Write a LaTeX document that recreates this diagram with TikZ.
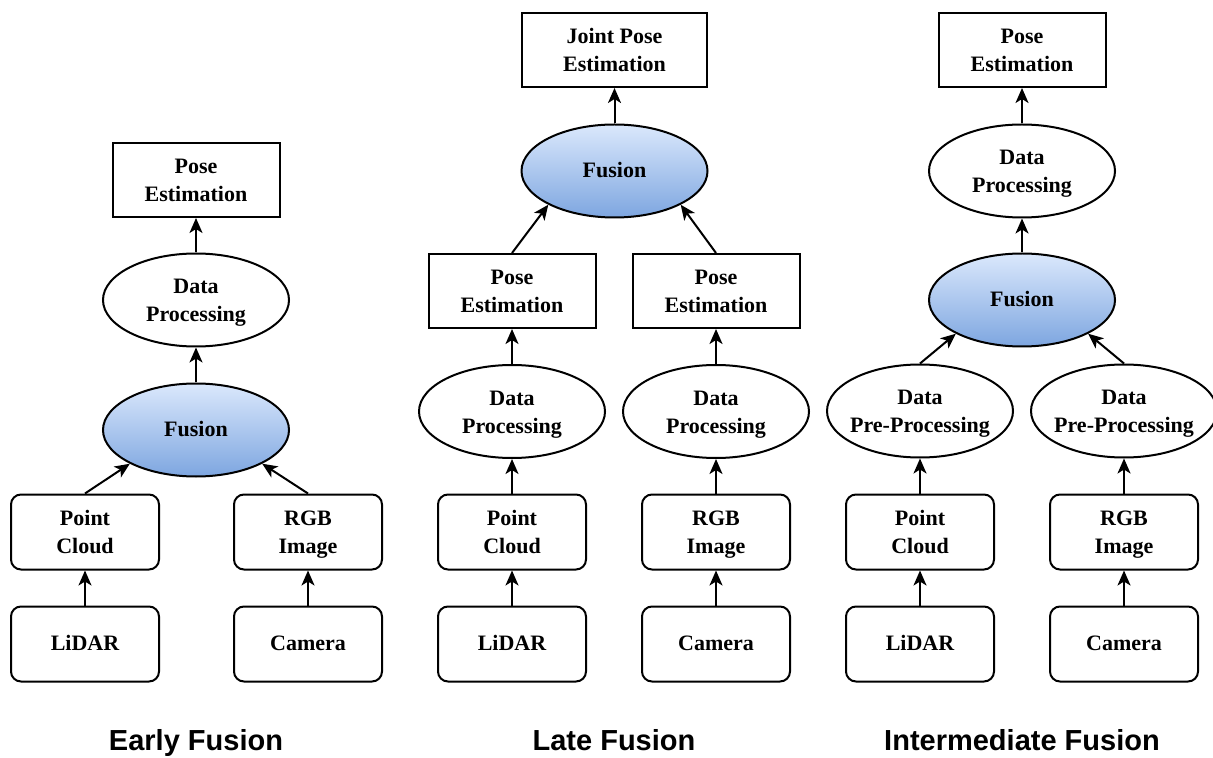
\documentclass[tikz,border=0pt]{standalone}
\usepackage{fontspec}
\setmainfont{Liberation Serif}
\setsansfont{Liberation Sans}
\usetikzlibrary{arrows.meta,positioning,shapes.geometric}
\definecolor{fzink}{HTML}{000000}
\definecolor{fztop}{HTML}{DAE8FC}
\definecolor{fzbot}{HTML}{7EA6E0}
\tikzset{
  fznode/.style={draw=fzink, line width=1pt, fill=white, align=center, inner sep=0pt,
                 font=\fontsize{11}{13.8}\selectfont\bfseries,
                 execute at begin node={\rule{0pt}{11pt}}, execute at end node=\strut},
  fztwo/.style={text height=25pt, text depth=3.5pt},
  fzbox/.style={fznode, fztwo, minimum width=83.5pt, minimum height=37pt},
  fzsrc/.style={fznode, rounded corners=5pt, minimum width=74pt, minimum height=37.5pt},
  fzproc/.style={fznode, fztwo, ellipse, minimum width=93pt, minimum height=46.5pt},
  fzfuse/.style={fznode, ellipse, minimum width=93pt, minimum height=46.5pt,
                 top color=fztop, bottom color=fzbot},
  fzedge/.style={-{Stealth[length=7.5pt,width=6.5pt,inset=2pt]}, draw=fzink, line width=1pt},
  fztitle/.style={font=\sffamily\bfseries\fontsize{14.5}{17}\selectfont, anchor=base},
}

\begin{document}
\begin{tikzpicture}[x=0.5pt,y=-0.5pt]
  \useasboundingbox (0,0) rectangle (1213,758);

  % early fusion
  \node[fzbox]  (ePose)  at (196,180) {Pose\\Estimation};
  \node[fzproc] (eProc)  at (196,300) {Data\\Processing};
  \node[fzfuse] (eFus)   at (196,430) {Fusion};
  \node[fzsrc, fztwo] (ePc)  at (85,532)  {Point\\Cloud};
  \node[fzsrc, fztwo] (eRgb) at (308,532) {RGB\\Image};
  \node[fzsrc]  (eLidar) at (85,644)  {LiDAR};
  \node[fzsrc]  (eCam)   at (308,644) {Camera};
  \draw[fzedge] (eLidar) -- (ePc);
  \draw[fzedge] (eCam) -- (eRgb);
  \draw[fzedge] (ePc.north) -- (eFus.207);
  \draw[fzedge] (eRgb.north) -- (eFus.-27);
  \draw[fzedge] (eFus) -- (eProc);
  \draw[fzedge] (eProc) -- (ePose);
  \node[fztitle] (eTitle) at (196,750) {Early Fusion};

  % late fusion
  \node[fzbox, minimum width=92.5pt] (lJoint) at (614.5,50) {Joint Pose\\Estimation};
  \node[fzfuse] (lFus)   at (614.5,171) {Fusion};
  \node[fzbox]  (lPoseA) at (512,291) {Pose\\Estimation};
  \node[fzbox]  (lPoseB) at (716,291) {Pose\\Estimation};
  \node[fzproc] (lProcA) at (512,411.5) {Data\\Processing};
  \node[fzproc] (lProcB) at (716,411.5) {Data\\Processing};
  \node[fzsrc, fztwo] (lPc)  at (512,532) {Point\\Cloud};
  \node[fzsrc, fztwo] (lRgb) at (716,532) {RGB\\Image};
  \node[fzsrc]  (lLidar) at (512,644) {LiDAR};
  \node[fzsrc]  (lCam)   at (716,644) {Camera};
  \draw[fzedge] (lLidar) -- (lPc);
  \draw[fzedge] (lCam) -- (lRgb);
  \draw[fzedge] (lPc) -- (lProcA);
  \draw[fzedge] (lRgb) -- (lProcB);
  \draw[fzedge] (lProcA) -- (lPoseA);
  \draw[fzedge] (lProcB) -- (lPoseB);
  \draw[fzedge] (lPoseA.north) -- (lFus.207);
  \draw[fzedge] (lPoseB.north) -- (lFus.-27);
  \draw[fzedge] (lFus) -- (lJoint);
  \node[fztitle] (lTitle) at (614,750) {Late Fusion};

  % intermediate fusion
  \node[fzbox]  (iPose)  at (1022,50)  {Pose\\Estimation};
  \node[fzproc] (iProc)  at (1022,171) {Data\\Processing};
  \node[fzfuse] (iFus)   at (1022,300) {Fusion};
  \node[fzproc, inner xsep=-2.5pt] (iPreA) at (920,411)  {Data\\Pre-Processing};
  \node[fzproc, inner xsep=-2.5pt] (iPreB) at (1124,411) {Data\\Pre-Processing};
  \node[fzsrc, fztwo] (iPc)  at (920,532)  {Point\\Cloud};
  \node[fzsrc, fztwo] (iRgb) at (1124,532) {RGB\\Image};
  \node[fzsrc]  (iLidar) at (920,644)  {LiDAR};
  \node[fzsrc]  (iCam)   at (1124,644) {Camera};
  \draw[fzedge] (iLidar) -- (iPc);
  \draw[fzedge] (iCam) -- (iRgb);
  \draw[fzedge] (iPc) -- (iPreA);
  \draw[fzedge] (iRgb) -- (iPreB);
  \draw[fzedge] (iPreA.north) -- (iFus.207);
  \draw[fzedge] (iPreB.north) -- (iFus.-27);
  \draw[fzedge] (iFus) -- (iProc);
  \draw[fzedge] (iProc) -- (iPose);
  \node[fztitle] (iTitle) at (1022,750) {Intermediate Fusion};
\end{tikzpicture}
\end{document}
